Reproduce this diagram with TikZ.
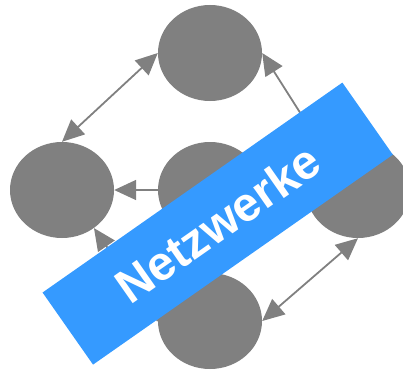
\documentclass[tikz,border=0pt]{standalone}
\usepackage{fontspec}
\setmainfont{Liberation Sans}
\usetikzlibrary{shapes.geometric,arrows.meta}
\definecolor{nodegray}{RGB}{128,128,128}
\definecolor{bannerblue}{RGB}{53,154,255}
\begin{document}
\begin{tikzpicture}[x=1pt,y=-1pt,
  netnode/.style={ellipse,fill=nodegray,draw=none,minimum width=104,minimum height=96,inner sep=0pt},
  conn/.style={draw=nodegray,line width=1.8pt,-{Triangle[length=22pt,width=20pt]}},
  dconn/.style={draw=nodegray,line width=1.8pt,{Triangle[length=22pt,width=20pt]}-{Triangle[length=22pt,width=20pt]}},
  banner/.style={rotate=35,fill=bannerblue,minimum width=366pt,minimum height=88pt,inner sep=0pt,text=white,font=\bfseries\fontsize{48}{48}\selectfont}]
\useasboundingbox (0,0) rectangle (403,369);
\node[netnode] (top) at (210,53) {};
\node[netnode] (left) at (62,190) {};
\node[netnode] (mid) at (210,190) {};
\node[netnode] (right) at (358,190) {};
\node[netnode] (bottom) at (210,321) {};
\draw[dconn] (left.north) -- (top.west);
\draw[conn] (right.131) -- (top.east);
\draw[conn] (mid.west) -- (left.east);
\draw[conn] (bottom.west) -- (left.-50);
\draw[dconn] (bottom.east) -- (right.south);
\node[banner] (ban) at (217.7,223.6) {Netzwerke};
\end{tikzpicture}
\end{document}
